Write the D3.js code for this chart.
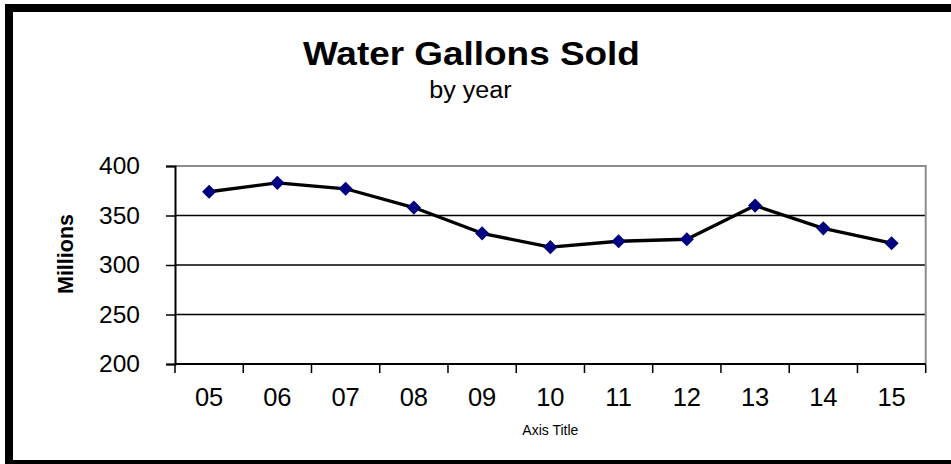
<!DOCTYPE html>
<html>
<head>
<meta charset="utf-8">
<script src="https://cdn.jsdelivr.net/npm/d3@7"></script>
<style>
  html, body { margin: 0; padding: 0; background: #fff; overflow: hidden; }
  svg { display: block; font-family: "Liberation Sans", Arial, sans-serif; }
</style>
</head>
<body>
<div id="chart"></div>
<script>
// datos
const years = ['05', '06', '07', '08', '09', '10', '11', '12', '13', '14', '15'];
const gallons = [374, 383, 377, 358, 332, 318, 324, 326, 360, 337, 322];
const yTicks = [200, 250, 300, 350, 400];

function grafica_lineas() {
    const width = 951, height = 464;
    const plot = { left: 175, right: 925.7, top: 166, bottom: 364 };

    const svg = d3.select('#chart').append('svg')
        .attr('width', width)
        .attr('height', height);

    // marco exterior (se sale por la derecha y abajo)
    svg.append('rect')
        .attr('x', 9).attr('y', 8)
        .attr('width', 980).attr('height', 456)
        .attr('fill', '#fff')
        .attr('stroke', '#000')
        .attr('stroke-width', 8);

    const x = d3.scaleBand()
        .domain(years)
        .range([plot.left, plot.right]);

    const y = d3.scaleLinear()
        .domain([200, 400])
        .range([plot.bottom, plot.top]);

    // lineas de la grilla
    svg.append('g')
        .selectAll('line')
        .data(yTicks.filter(t => t > 200 && t < 400))
        .join('line')
        .attr('x1', plot.left).attr('x2', plot.right)
        .attr('y1', d => y(d)).attr('y2', d => y(d))
        .attr('stroke', '#000')
        .attr('stroke-width', 1.3);

    // borde gris arriba y derecha
    svg.append('path')
        .attr('d', `M${plot.left},${y(400)}H${plot.right}V${plot.bottom}`)
        .attr('fill', 'none')
        .attr('stroke', '#8c8c8c')
        .attr('stroke-width', 2);

    // eje Y
    const yAxis = svg.append('g')
        .attr('transform', `translate(${plot.left},0)`)
        .call(d3.axisLeft(y).tickValues(yTicks).tickSize(9).tickPadding(26));
    yAxis.select('.domain').attr('stroke-width', 2);
    yAxis.selectAll('.tick line').attr('stroke-width', 1.5);
    yAxis.selectAll('text')
        .attr('font-size', 24.5)
        .attr('fill', '#000')
        .attr('font-family', '"Liberation Sans", Arial, sans-serif');

    // eje X: etiquetas al centro, marcas en los bordes de cada banda
    const xAxis = svg.append('g')
        .attr('transform', `translate(0,${plot.bottom})`)
        .call(d3.axisBottom(x).tickSize(0).tickPadding(24));
    xAxis.select('.domain').remove();
    xAxis.selectAll('text')
        .attr('font-size', 25.5)
        .attr('fill', '#000')
        .attr('font-family', '"Liberation Sans", Arial, sans-serif');

    const bordes = years.map(d => x(d)).concat([plot.right]);
    svg.append('g')
        .selectAll('line')
        .data(bordes)
        .join('line')
        .attr('x1', d => d).attr('x2', d => d)
        .attr('y1', plot.bottom).attr('y2', plot.bottom + 9)
        .attr('stroke', '#000')
        .attr('stroke-width', 1.5);

    svg.append('line')
        .attr('x1', plot.left).attr('x2', plot.right)
        .attr('y1', plot.bottom).attr('y2', plot.bottom)
        .attr('stroke', '#000')
        .attr('stroke-width', 2);

    // serie
    const cx = d => x(d) + x.bandwidth() / 2;
    const linea = d3.line()
        .x((d, i) => cx(years[i]))
        .y(d => y(d));

    svg.append('path')
        .datum(gallons)
        .attr('d', linea)
        .attr('fill', 'none')
        .attr('stroke', '#000')
        .attr('stroke-width', 3.3)
        .attr('stroke-linejoin', 'round');

    svg.append('g')
        .selectAll('path')
        .data(gallons)
        .join('path')
        .attr('d', d3.symbol(d3.symbolSquare, 100))
        .attr('transform', (d, i) => `translate(${cx(years[i])},${y(d)}) rotate(45)`)
        .attr('fill', '#000080');

    // textos (el original viene algo estirado a lo ancho)
    svg.append('text')
        .attr('x', 471.4).attr('y', 65)
        .attr('text-anchor', 'middle')
        .attr('font-size', 34)
        .attr('font-weight', 'bold')
        .attr('textLength', 337)
        .attr('lengthAdjust', 'spacingAndGlyphs')
        .text('Water Gallons Sold');

    svg.append('text')
        .attr('x', 470.5).attr('y', 97.5)
        .attr('text-anchor', 'middle')
        .attr('font-size', 23)
        .attr('textLength', 82.4)
        .attr('lengthAdjust', 'spacingAndGlyphs')
        .text('by year');

    svg.append('text')
        .attr('transform', `translate(72.5,${(plot.top + plot.bottom) / 2 - 11}) rotate(-90)`)
        .attr('text-anchor', 'middle')
        .attr('font-size', 21.5)
        .attr('font-weight', 'bold')
        .text('Millions');

    svg.append('text')
        .attr('x', (plot.left + plot.right) / 2).attr('y', 435)
        .attr('text-anchor', 'middle')
        .attr('font-size', 14)
        .text('Axis Title');
}

grafica_lineas();
</script>
</body>
</html>
